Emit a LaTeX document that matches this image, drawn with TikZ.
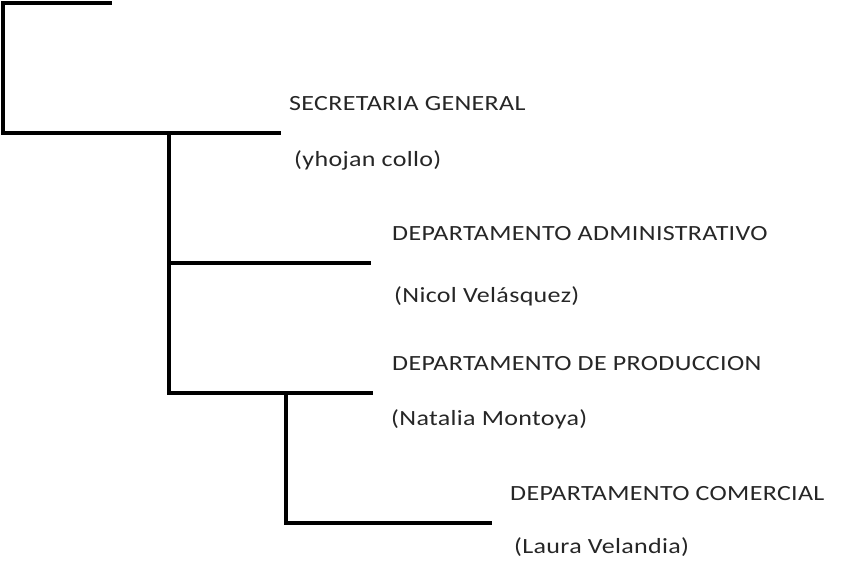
\documentclass[tikz,border=0pt]{standalone}
\usepackage{fontspec}
\setmainfont{Carlito}[FakeStretch=1.2,LetterSpace=1.5]
\usetikzlibrary{positioning}

\begin{document}
\begin{tikzpicture}[x=0.03cm,y=-0.03cm,
    branch/.style={line width=2.6pt,black,line cap=rect},
    lbl/.style={anchor=base west,inner sep=0pt,font=\fontsize{18.5}{22}\selectfont,text=black!85}]
  \useasboundingbox (0,0) rectangle (845,581);
  % tree joints
  \coordinate (t0) at (110,3);
  \coordinate (t1) at (3,3);
  \coordinate (t2) at (3,133);
  \coordinate (sec) at (279,133);
  \coordinate (s1) at (169,133);
  \coordinate (s2) at (169,263);
  \coordinate (adm) at (369,263);
  \coordinate (s3) at (169,393);
  \coordinate (prod) at (371,393);
  \coordinate (p1) at (286,393);
  \coordinate (p2) at (286,523);
  \coordinate (com) at (490,523);
  \draw[branch] (t0) -- (t1) -- (t2) -- (sec);
  \draw[branch] (s1) -- (s3) -- (prod);
  \draw[branch] (s2) -- (adm);
  \draw[branch] (p1) -- (p2) -- (com);
  % labels
  \node[lbl] (secT) at (289,110) {SECRETARIA GENERAL};
  \node[lbl] (secN) at (294,166) {(yhojan collo)};
  \node[lbl] (admT) at (392,240) {DEPARTAMENTO ADMINISTRATIVO};
  \node[lbl] (admN) at (394,302) {(Nicol Velásquez)};
  \node[lbl] (prodT) at (392,370) {DEPARTAMENTO DE PRODUCCION};
  \node[lbl] (prodN) at (391,425) {(Natalia Montoya)};
  \node[lbl] (comT) at (510,500) {DEPARTAMENTO COMERCIAL};
  \node[lbl] (comN) at (514,553) {(Laura Velandia)};
\end{tikzpicture}
\end{document}
